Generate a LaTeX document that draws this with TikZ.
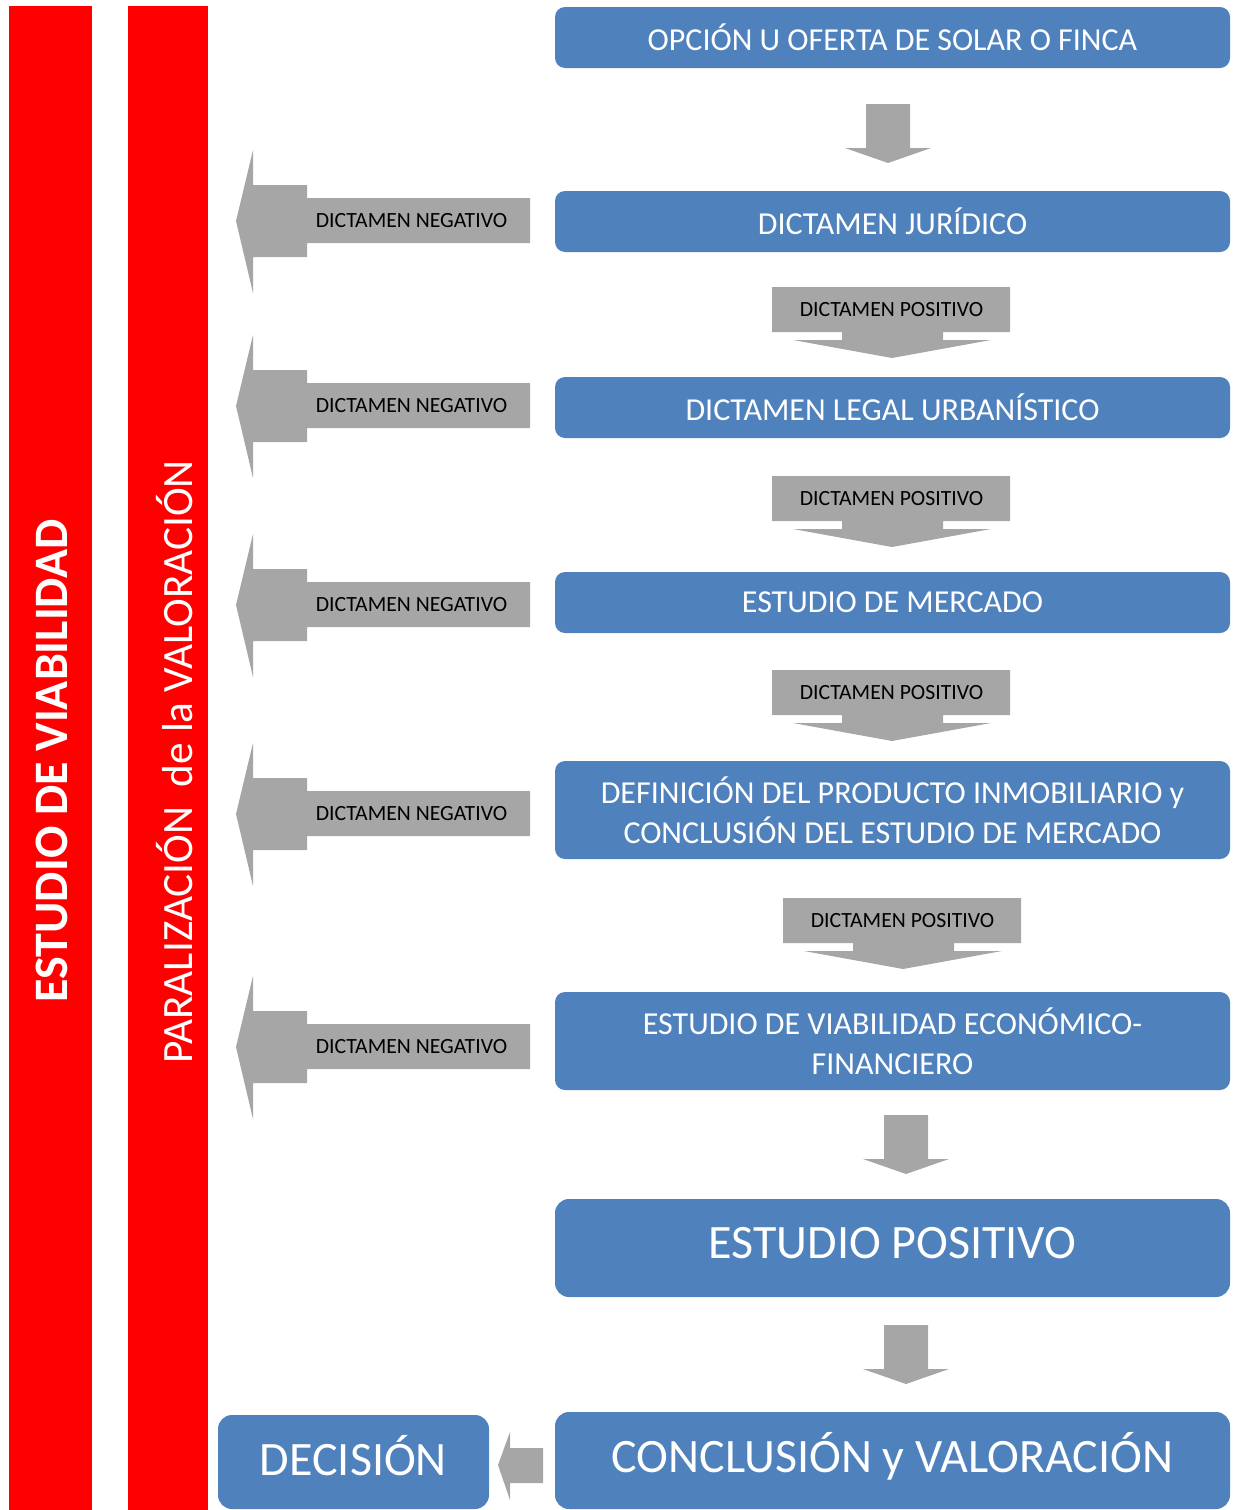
\documentclass[tikz,border=0pt]{standalone}
\usepackage{fontspec}
\setmainfont{Carlito}
\definecolor{myblue}{HTML}{4F81BD}
\definecolor{mygray}{HTML}{A6A6A6}
\definecolor{myred}{HTML}{FF0000}
\newcommand\negarrow[2]{%
  \fill[mygray] (236,#2) -- (253,#2-71) -- (253,#2-36) -- (307,#2-36) -- (307,#2-23)
    -- (530,#2-23) -- (530,#2+22) -- (307,#2+22) -- (307,#2+36) -- (253,#2+36)
    -- (253,#2+72) -- cycle;
  \node[neglab] (#1) at (411.5,#2) {DICTAMEN NEGATIVO};}
\newcommand\posarrow[3]{%
  \fill[mygray] (#2,#3) -- (#2+238,#3) -- (#2+238,#3+45) -- (#2+171,#3+45) -- (#2+171,#3+53)
    -- (#2+219,#3+53) -- (#2+120,#3+71) -- (#2+21,#3+53) -- (#2+70,#3+53) -- (#2+70,#3+45)
    -- (#2,#3+45) -- cycle;
  \node[neglab] (#1) at (#2+119.5,#3+23) {DICTAMEN POSITIVO};}
\newcommand\plaindown[3]{%
  \fill[mygray] (#2,#3) -- (#2+44,#3) -- (#2+44,#3+44) -- (#2+65,#3+44) -- (#2+22,#3+59)
    -- (#2-21,#3+44) -- (#2,#3+44) -- cycle;
  \coordinate (#1) at (#2+22,#3+59);}
\begin{document}
\begin{tikzpicture}[x=1pt,y=-1pt,
  bx/.style={fill=myblue, rounded corners=10pt, text=white, inner sep=0pt, align=center,
    font=\fontsize{32}{40}\selectfont, minimum width=675pt},
  bigbx/.style={bx, rounded corners=14pt, font=\fontsize{48}{56}\selectfont, text depth=9pt},
  neglab/.style={inner sep=0pt, text=black, font=\fontsize{21.7}{24}\selectfont},
  vlab/.style={rotate=90, anchor=base, inner sep=0pt, text=white}]
\useasboundingbox (0,0) rectangle (1238,1510);
% red bars
\fill[myred] (9,6) rectangle (92,1510);
\fill[myred] (128,6) rectangle (208,1510);
\node[vlab, font=\bfseries\fontsize{48}{56}\selectfont] (v1) at (67,761) {ESTUDIO DE VIABILIDAD};
\node[vlab, font=\fontsize{43.3}{50}\selectfont] (v2) at (192,762) {PARALIZACIÓN\ \ de la VALORACIÓN};
% blue boxes
\node[bx, minimum height=61pt] (b1) at (892.5,37.5) {OPCIÓN U OFERTA DE SOLAR O FINCA};
\node[bx, minimum height=61pt] (b2) at (892.5,221.5) {DICTAMEN JURÍDICO};
\node[bx, minimum height=61pt] (b3) at (892.5,407.5) {DICTAMEN LEGAL URBANÍSTICO};
\node[bx, minimum height=61pt] (b4) at (892.5,602.5) {ESTUDIO DE MERCADO};
\node[bx, minimum height=98pt] (b5) at (892.5,810) {DEFINICIÓN DEL PRODUCTO INMOBILIARIO y\\CONCLUSIÓN DEL ESTUDIO DE MERCADO};
\node[bx, minimum height=98pt] (b6) at (892.5,1041) {ESTUDIO DE VIABILIDAD ECONÓMICO-\\FINANCIERO};
\node[bigbx, minimum height=98pt, text height=30pt] (b7) at (892.5,1248) {ESTUDIO POSITIVO};
\node[bigbx, minimum height=97pt, text height=33pt] (b8) at (892.5,1460.5) {CONCLUSIÓN y VALORACIÓN};
\node[bigbx, minimum width=271pt, minimum height=94pt, text height=36pt] (dec) at (353.5,1462) {DECISIÓN};
% down arrows
\plaindown{d1}{866}{104}
\posarrow{p1}{772}{287}
\posarrow{p2}{772}{476}
\posarrow{p3}{772}{670}
\posarrow{p4}{783}{898}
\plaindown{d2}{884}{1115}
\plaindown{d3}{884}{1325}
% negative arrows
\negarrow{n1}{221}
\negarrow{n2}{406}
\negarrow{n3}{605}
\negarrow{n4}{814}
\negarrow{n5}{1047}
% decision arrow
\fill[mygray] (498,1465) -- (510,1432) -- (510,1448) -- (543,1448) -- (543,1483) -- (510,1483) -- (510,1500) -- cycle;
\end{tikzpicture}
\end{document}
